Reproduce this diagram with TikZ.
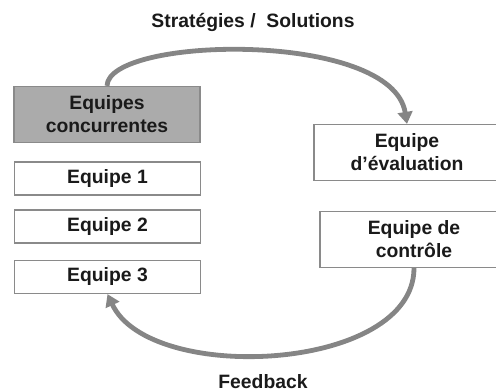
\documentclass[tikz,border=0pt]{standalone}
\usepackage{fontspec}
\setmainfont{Liberation Sans}
\usetikzlibrary{arrows.meta}
\definecolor{boxline}{HTML}{8A8A8A}
\definecolor{arrowgray}{HTML}{858585}
\definecolor{fillgray}{HTML}{ABABAB}
\definecolor{txt}{HTML}{1A1A1A}
\tikzset{
  teambox/.style={draw=boxline, line width=0.9pt, fill=white, minimum height=#1, inner sep=0pt, align=center, font=\bfseries\fontsize{14.5}{17.3}\selectfont, text=txt},
  teambox/.default=24.75pt,
  label/.style={font=\bfseries\fontsize{14.5}{17}\selectfont, text=txt},
  flow/.style={draw=arrowgray, line width=3.6pt, -{Triangle[length=9pt,width=11pt]}}
}
\begin{document}
\begin{tikzpicture}[x=0.75pt,y=-0.75pt]
\useasboundingbox (0,0) rectangle (496,392);
\clip (0,0) rectangle (496,392);
\node[label] (title) at (253,22) {Stratégies /\ \ Solutions};
\node[label] (fb) at (263,382) {Feedback};
\node[teambox=42pt, fill=fillgray, minimum width=139.5pt] (conc) at (107,114.5) {Equipes\\concurrentes};
\node[teambox, minimum width=140pt] (e1) at (107.5,178.5) {Equipe 1};
\node[teambox, minimum width=140pt] (e2) at (107.5,226.5) {Equipe 2};
\node[teambox, minimum width=140pt] (e3) at (107.5,277) {Equipe 3};
\node[teambox=42pt, minimum width=139.5pt] (eval) at (407,152.5) {Equipe\\d’évaluation};
\node[teambox=42pt, minimum width=141pt] (ctrl) at (414,239.5) {Equipe de\\contrôle};
\draw[flow] (conc.north) .. controls (108,36) and (392,30) .. (eval.north);
\draw[flow] (ctrl.south) .. controls (414,372) and (150,385) .. (e3.south);
\end{tikzpicture}
\end{document}
